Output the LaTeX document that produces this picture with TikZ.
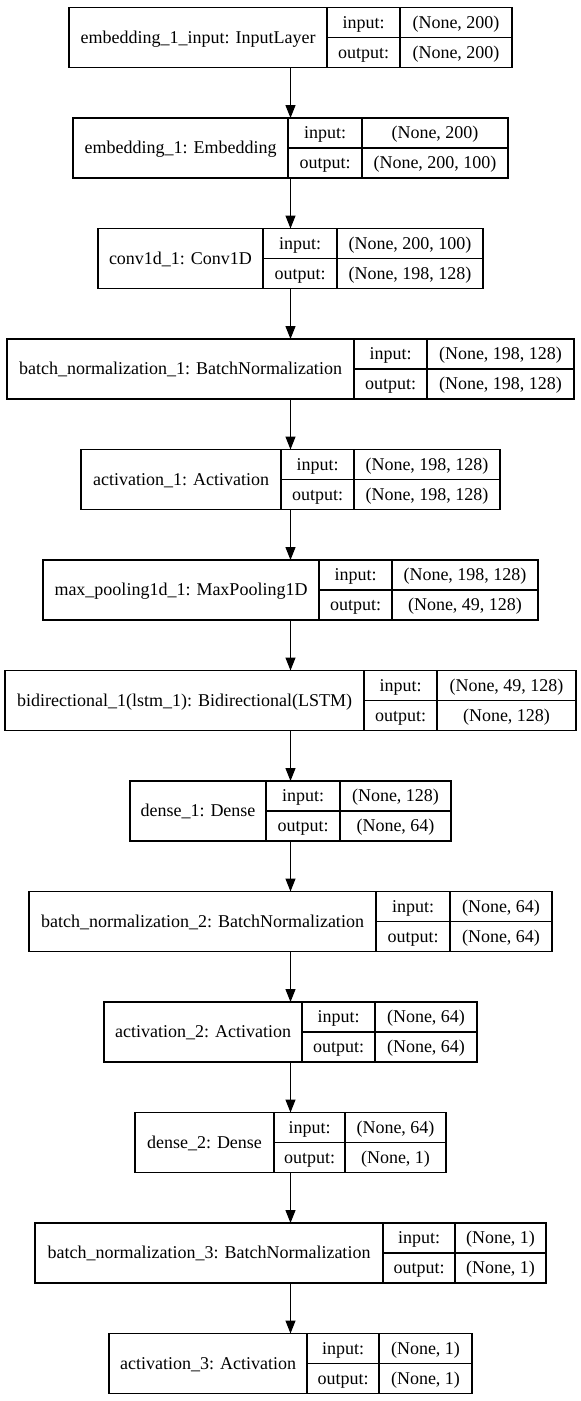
\documentclass[tikz,border=0pt]{standalone}
\usepackage{fontspec}
\setmainfont{Liberation Serif}
\usetikzlibrary{arrows.meta}

\newcommand\kfont{\fontsize{18}{21}\selectfont}

\tikzset{
  layerbox/.style={draw=black, line width=1.3pt, minimum height=60pt, inner sep=0pt, outer sep=0pt},
  rule/.style={draw=black, line width=1.3pt},
  celltext/.style={font=\kfont, inner sep=0pt, anchor=base},
  flow/.style={draw=black, line width=1.3pt, -{Triangle[length=13pt,width=10pt]}},
}

% One Keras layer record: name, top edge, left edge, first divider,
% second divider, right edge, layer title, input shape, output shape
\newcommand\kerasnode[9]{%
  \node[layerbox, minimum width={(#6-#3)*1pt}] (#1) at ({(#3+#6)/2}, {#2+30}) {};
  \draw[rule] (#4,#2) -- (#4,{#2+60})
              (#5,#2) -- (#5,{#2+60})
              (#4,{#2+30}) -- (#6,{#2+30});
  \node[celltext] (#1-title) at ({(#3+#4)/2}, {#2+35.5}) {#7};
  \node[celltext] (#1-inkey) at ({(#4+#5)/2}, {#2+20.5}) {input:};
  \node[celltext] (#1-outkey) at ({(#4+#5)/2}, {#2+50.5}) {output:};
  \node[celltext] (#1-inval) at ({(#5+#6)/2}, {#2+20.5}) {#8};
  \node[celltext] (#1-outval) at ({(#5+#6)/2}, {#2+50.5}) {#9};
}

\begin{document}
\begin{tikzpicture}[x=1pt, y=-1pt]
  \fill[white] (0,0) rectangle (581,1401);
  \useasboundingbox (0,0) rectangle (581,1401);

  \kerasnode{L1}{7.5}{69}{327}{400}{512}{embedding\_1\_input: InputLayer}{(None, 200)}{(None, 200)}
  \kerasnode{L2}{118}{73}{288}{362}{508}{embedding\_1: Embedding}{(None, 200)}{(None, 200, 100)}
  \kerasnode{L3}{228.5}{98}{263}{337}{483}{conv1d\_1: Conv1D}{(None, 200, 100)}{(None, 198, 128)}
  \kerasnode{L4}{339}{7}{354}{427}{574}{batch\_normalization\_1: BatchNormalization}{(None, 198, 128)}{(None, 198, 128)}
  \kerasnode{L5}{449.5}{81}{281}{354}{500}{activation\_1: Activation}{(None, 198, 128)}{(None, 198, 128)}
  \kerasnode{L6}{560}{43}{319}{392}{538}{max\_pooling1d\_1: MaxPooling1D}{(None, 198, 128)}{(None, 49, 128)}
  \kerasnode{L7}{670.5}{5}{364}{437}{576}{bidirectional\_1(lstm\_1): Bidirectional(LSTM)}{(None, 49, 128)}{(None, 128)}
  \kerasnode{L8}{781}{130}{266}{340}{451}{dense\_1: Dense}{(None, 128)}{(None, 64)}
  \kerasnode{L9}{891.5}{29}{376}{450}{552}{batch\_normalization\_2: BatchNormalization}{(None, 64)}{(None, 64)}
  \kerasnode{L10}{1002}{104}{302}{375}{477}{activation\_2: Activation}{(None, 64)}{(None, 64)}
  \kerasnode{L11}{1112.5}{135}{274}{345}{446}{dense\_2: Dense}{(None, 64)}{(None, 1)}
  \kerasnode{L12}{1223}{35}{383}{455}{546}{batch\_normalization\_3: BatchNormalization}{(None, 1)}{(None, 1)}
  \kerasnode{L13}{1333.5}{109}{307}{379}{472}{activation\_3: Activation}{(None, 1)}{(None, 1)}

  \foreach \a/\b in {L1/L2, L2/L3, L3/L4, L4/L5, L5/L6, L6/L7, L7/L8,
                     L8/L9, L9/L10, L10/L11, L11/L12, L12/L13}
    \draw[flow] (\a.south) -- (\b.north);
\end{tikzpicture}
\end{document}
